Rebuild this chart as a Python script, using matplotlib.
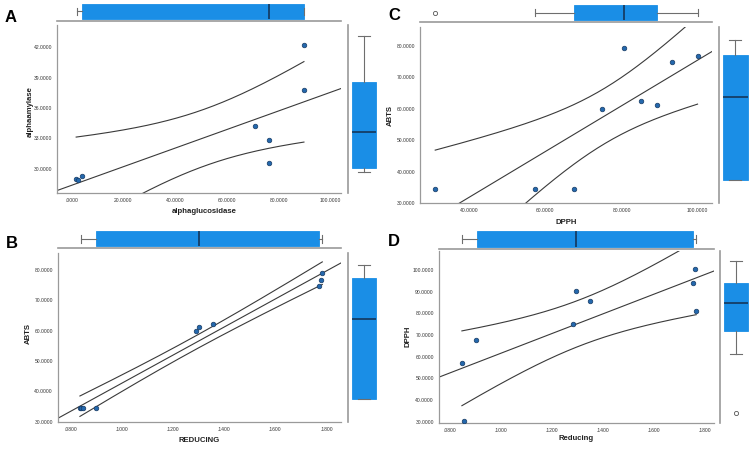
import numpy as np
import matplotlib
matplotlib.use("Agg")
import matplotlib.pyplot as plt
from matplotlib.ticker import FuncFormatter

plt.rcParams['font.family'] = ['Liberation Sans', 'DejaVu Sans']

# panel A: alphaglucosidase vs alphaamylase
a_x = [1.8, 2.4, 4.1, 70.8, 76.4, 76.4, 89.7, 89.7]
a_y = [28.99, 28.86, 29.25, 34.23, 32.86, 30.56, 37.74, 42.2]
a_box_x = [2.05, 4.1, 76.4, 89.7, 89.7]
a_box_y = [29.7, 30.07, 33.67, 38.56, 43.08]

# panel C: DPPH vs ABTS
c_x = [31.0, 57.3, 67.4, 74.9, 80.6, 85.0, 89.3, 93.2, 100.0]
c_y = [34.6, 34.6, 34.6, 59.8, 79.3, 62.4, 61.1, 75.0, 76.9]
c_box_x = [57.3, 67.4, 80.6, 89.3, 100.0]
c_fly_x = [31.0]
c_box_y = [37.4, 37.4, 63.6, 77.1, 82.0]

# panel B: REDUCING vs ABTS
b_x = [0.0835, 0.0840, 0.0848, 0.0899, 0.1289, 0.1300, 0.1357, 0.1770, 0.1778, 0.1784]
b_y = [34.6, 34.6, 34.6, 34.6, 59.8, 61.0, 62.2, 74.6, 76.6, 79.0]
b_box_x = [0.0839, 0.0899, 0.1300, 0.1770, 0.1781]
b_box_y = [37.4, 37.4, 63.8, 77.4, 81.6]

# panel D: Reducing vs DPPH
d_x = [0.0847, 0.0855, 0.0903, 0.1284, 0.1294, 0.1349, 0.1752, 0.1761, 0.1766]
d_y = [57.2, 30.4, 67.7, 75.3, 90.3, 85.8, 94.1, 100.5, 81.2]
d_box_x = [0.0847, 0.0905, 0.1294, 0.1752, 0.1765]
d_box_y = [61.25, 71.8, 85.0, 94.0, 104.3]
d_fly_y = [34.0]

# t(0.975) by degrees of freedom
t975 = {6: 2.447, 7: 2.365, 8: 2.306}

W, H = 752, 453
fig = plt.figure(figsize=(W / 100, H / 100), dpi=100)

BOXC = '#1a8ee6'
GRID = '#9a9a9a'
WHIS = '#6e6e6e'


def px_axes(x0, y0, x1, y1):
    return fig.add_axes([x0 / W, 1 - y1 / H, (x1 - x0) / W, (y1 - y0) / H])


def spss_fmt(v, pos):
    s = f"{v:.4f}"
    if s.startswith("0."):
        s = s[1:]
    return s


def stats(vals, fliers=()):
    return [dict(whislo=vals[0], q1=vals[1], med=vals[2], q3=vals[3],
                 whishi=vals[4], fliers=list(fliers))]


def draw_box(ax, vals, fliers, pos, width, orient):
    ax.bxp(stats(vals, fliers), positions=[pos], widths=width,
           orientation=orient, patch_artist=True,
           boxprops=dict(facecolor=BOXC, edgecolor=BOXC, linewidth=0.6),
           medianprops=dict(color='#14304f', linewidth=1.1),
           whiskerprops=dict(color=WHIS, linewidth=0.8),
           capprops=dict(color=WHIS, linewidth=0.8),
           capwidths=width * 0.5,
           flierprops=dict(marker='o', markersize=3, markerfacecolor='white',
                           markeredgecolor='#555555', markeredgewidth=0.6))


def panel(main, top, right, x, y, xlim, ylim, xticks, yticks,
          bx, by, fx=(), fy=(), rpos=0.52, rw=0.8):
    x = np.array(x)
    y = np.array(y)
    ax = px_axes(*main)
    ax.scatter(x, y, s=11, color='#2468ad', edgecolor='#173a63',
               linewidth=0.5, zorder=3)
    n = len(x)
    slope, icpt = np.polyfit(x, y, 1)
    xx = np.linspace(xlim[0], xlim[1], 200)
    ax.plot(xx, icpt + slope * xx, color='#3a3a3a', lw=0.8)
    resid = y - (icpt + slope * x)
    s = np.sqrt(np.sum(resid ** 2) / (n - 2))
    sxx = np.sum((x - x.mean()) ** 2)
    xc = np.linspace(x.min(), x.max(), 200)
    half = t975[n - 2] * s * np.sqrt(1 / n + (xc - x.mean()) ** 2 / sxx)
    yc = icpt + slope * xc
    ax.plot(xc, yc + half, color='#3a3a3a', lw=0.8)
    ax.plot(xc, yc - half, color='#3a3a3a', lw=0.8)
    ax.set_xlim(*xlim)
    ax.set_ylim(*ylim)
    ax.set_xticks(xticks)
    ax.set_yticks(yticks)
    ax.xaxis.set_major_formatter(FuncFormatter(spss_fmt))
    ax.yaxis.set_major_formatter(FuncFormatter(spss_fmt))
    ax.tick_params(length=0, labelsize=3.6, colors='#333333', pad=3.5)
    for k in ['top', 'right']:
        ax.spines[k].set_visible(False)
    for k in ['left', 'bottom']:
        ax.spines[k].set_color(GRID)
        ax.spines[k].set_linewidth(0.9)

    at = px_axes(*top)
    draw_box(at, bx, fx, 0.5, 0.8, 'horizontal')
    at.set_xlim(*xlim)
    at.set_ylim(0, 1)
    at.axis('off')
    at.axhline(0, color=GRID, lw=1.2, clip_on=False)

    ar = px_axes(*right)
    draw_box(ar, by, fy, rpos, rw, 'vertical')
    ar.set_ylim(*ylim)
    ar.set_xlim(0, 1)
    ar.axis('off')
    ar.axvline(0, color=GRID, lw=1.2, clip_on=False)
    return ax


panel((57, 25, 341, 193), (57, 2, 341, 20.5), (348, 25, 378, 193),
      a_x, a_y, (-5.6, 104), (27.6, 44.2), np.arange(0, 101, 20),
      np.arange(30, 43, 3), a_box_x, a_box_y)

panel((420, 27, 712, 203), (420, 3, 712, 22), (719, 27, 750, 203),
      c_x, c_y, (27, 103.8), (30, 86), [40, 60, 80, 100],
      np.arange(30, 81, 10), c_box_x, c_box_y, fx=c_fly_x)

panel((57.7, 252.7, 340.7, 421.7), (57.7, 229, 340.7, 248.3),
      (348, 252.7, 378, 421.7),
      b_x, b_y, (0.0748, 0.1856), (30, 85.6), np.arange(0.08, 0.181, 0.02),
      np.arange(30, 81, 10), b_box_x, b_box_y)

panel((438.7, 251, 714.3, 422.7), (438.7, 229, 714.3, 248.7),
      (720, 251, 752, 422.7),
      d_x, d_y, (0.0756, 0.1837), (29.5, 108.9), np.arange(0.08, 0.181, 0.02),
      np.arange(30, 101, 10), d_box_x, d_box_y, fy=d_fly_y, rpos=0.5, rw=0.75)


def ftext(x, y, s, **kw):
    fig.text(x / W, 1 - y / H, s, ha='center', va='center', **kw)


lab = dict(fontsize=5.6, fontweight='bold', color='#222222')
ftext(204, 212, 'alphaglucosidase', **lab)
ftext(30, 112, 'alphaamylase', rotation=90, **lab)
ftext(566, 222, 'DPPH', **lab)
ftext(390, 115, 'ABTS', rotation=90, **lab)
ftext(199, 440, 'REDUCING', **lab)
ftext(28, 334, 'ABTS', rotation=90, **lab)
ftext(576, 439, 'Reducing', **lab)
ftext(408, 336, 'DPPH', rotation=90, **lab)

big = dict(fontsize=12, fontweight='bold', color='black')
ftext(11, 17, 'A', **big)
ftext(394, 16, 'C', **big)
ftext(12, 244, 'B', **big)
ftext(394, 242, 'D', **big)

fig.savefig('out.png', dpi=100)
